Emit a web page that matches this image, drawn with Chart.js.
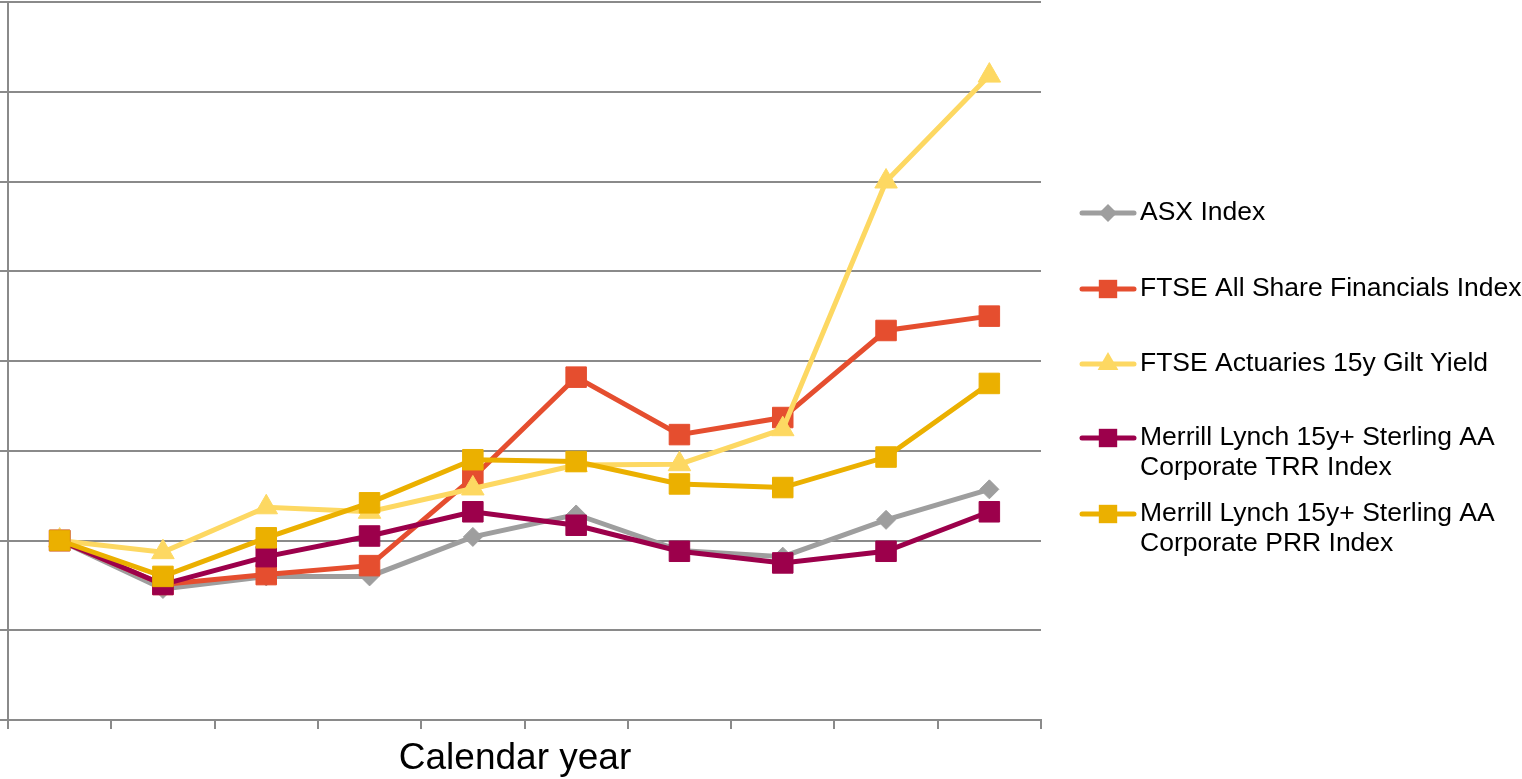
<!DOCTYPE html>
<html>
<head>
<meta charset="utf-8">
<script src="https://cdn.jsdelivr.net/npm/chart.js@4.4.1/dist/chart.umd.min.js"></script>
<style>
  html, body { margin: 0; padding: 0; background: #fff; }
  #wrap { position: relative; width: 1522px; height: 779px; }
</style>
</head>
<body>
<div id="wrap"><canvas id="chart"></canvas></div>
<script>
// ten calendar years, no year labels shown on the axis
var years = ['1', '2', '3', '4', '5', '6', '7', '8', '9', '10']

var asx        = [1.000, 0.946, 0.960, 0.960, 1.004, 1.029, 0.989, 0.982, 1.023, 1.057]
var ftseFin    = [1.000, 0.951, 0.962, 0.972, 1.070, 1.182, 1.118, 1.137, 1.234, 1.250]
var giltYield  = [1.000, 0.987, 1.037, 1.032, 1.058, 1.084, 1.085, 1.124, 1.400, 1.518]
var mlTRR      = [1.000, 0.951, 0.982, 1.005, 1.032, 1.017, 0.988, 0.975, 0.988, 1.032]
var mlPRR      = [1.000, 0.960, 1.003, 1.042, 1.090, 1.088, 1.063, 1.059, 1.093, 1.175]

var seriesNames = [
    ['ASX Index'],
    ['FTSE All Share Financials Index'],
    ['FTSE Actuaries 15y Gilt Yield'],
    ['Merrill Lynch 15y+ Sterling AA', 'Corporate TRR Index'],
    ['Merrill Lynch 15y+ Sterling AA', 'Corporate PRR Index']
]
var seriesData   = [asx, ftseFin, giltYield, mlTRR, mlPRR]
var seriesColors = ['#9e9e9e', '#e54e2f', '#fdd862', '#9c004b', '#ebb000']
var seriesMarks  = ['rectRot', 'rect', 'triangle', 'rect', 'rect']
var markRadius   = [9.5, 14.5, 13, 14.5, 14.5]

var gridColor = '#8a8a8a'
var fontFamily = '"Liberation Sans", Arial, sans-serif'

function makeDataset(i) {
    return {
        label: seriesNames[i].join(' '),
        data: seriesData[i],
        borderColor: seriesColors[i],
        backgroundColor: seriesColors[i],
        borderWidth: 5,
        pointStyle: seriesMarks[i],
        pointRadius: markRadius[i],
        pointBorderWidth: 1,
        pointBorderColor: seriesColors[i],
        pointBackgroundColor: seriesColors[i],
        tension: 0,
        clip: false,
        order: seriesData.length - i   // later series sit on top
    }
}

// legend on the right: a short line with the marker in its middle,
// plus the x axis title (placed by hand, a little left of centre)
var sideLegend = {
    id: 'sideLegend',
    afterDraw: function (chart) {
        var ctx = chart.ctx
        var rows = [213, 289, 364, 438, 514]
        ctx.save()
        ctx.textBaseline = 'middle'
        ctx.font = '37px ' + fontFamily
        ctx.textAlign = 'center'
        ctx.fillStyle = '#000'
        ctx.fillText('Calendar year', 515, 759)

        ctx.textAlign = 'left'
        ctx.font = '26.5px ' + fontFamily
        for (var i = 0; i < seriesNames.length; i++) {
            var y = rows[i]
            ctx.strokeStyle = seriesColors[i]
            ctx.lineWidth = 5
            ctx.lineCap = 'round'
            ctx.beginPath()
            ctx.moveTo(1082, y)
            ctx.lineTo(1134, y)
            ctx.stroke()
            ctx.fillStyle = seriesColors[i]
            var r = seriesMarks[i] == 'rectRot' ? 9 : (seriesMarks[i] == 'triangle' ? 12 : 13)
            Chart.helpers.drawPoint(ctx, { pointStyle: seriesMarks[i], rotation: 0, radius: r, borderWidth: 0 }, 1108, y)
            ctx.fillStyle = '#000'
            for (var k = 0; k < seriesNames[i].length; k++) {
                ctx.fillText(seriesNames[i][k], 1140, y + k * 30)
            }
        }
        ctx.restore()
    }
}

var chart = new Chart(document.getElementById('chart'), {
    type: 'line',
    data: {
        labels: years,
        datasets: seriesData.map(function (d, i) { return makeDataset(i) })
    },
    options: {
        responsive: true,
        maintainAspectRatio: false,
        animation: false,
        layout: {
            autoPadding: false,
            padding: { top: 2, right: 481, bottom: 50, left: 0 }
        },
        plugins: {
            legend: { display: false },
            tooltip: { enabled: false }
        },
        scales: {
            x: {
                offset: true,
                border: { color: gridColor, width: 2 },
                grid: {
                    offset: true,
                    drawOnChartArea: false,
                    drawTicks: true,
                    tickLength: 9,
                    color: gridColor,
                    lineWidth: 2
                },
                ticks: { display: false }
            },
            y: {
                min: 0.8,
                max: 1.6,
                border: { color: gridColor, width: 2 },
                grid: {
                    color: gridColor,
                    lineWidth: 2,
                    drawTicks: true,
                    tickLength: 8
                },
                ticks: { display: false, stepSize: 0.1 }
            }
        }
    },
    plugins: [sideLegend]
})
</script>
</body>
</html>
